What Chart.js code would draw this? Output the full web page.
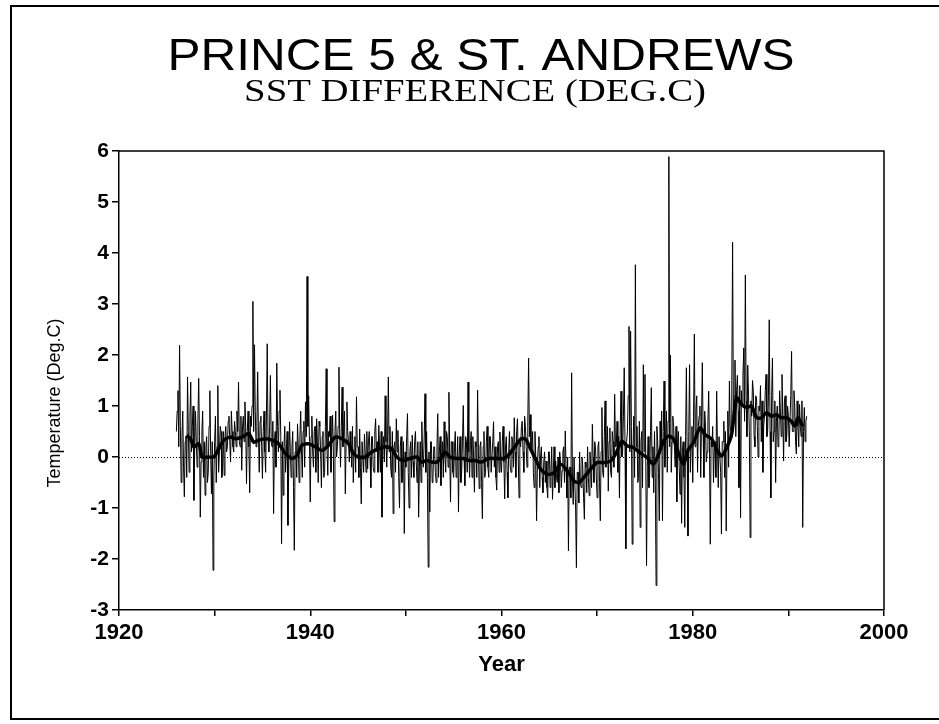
<!DOCTYPE html>
<html>
<head>
<meta charset="utf-8">
<script src="https://cdn.jsdelivr.net/npm/chart.js@4.4.0/dist/chart.umd.min.js"></script>
<style>
html,body{margin:0;padding:0;background:#fff;}
#wrap{width:939px;height:724px;}
</style>
</head>
<body>
<div id="wrap"><canvas id="c" width="939" height="724"></canvas></div>
<script>
// ---- Text ----
const titleText = 'PRINCE 5 & ST. ANDREWS';
const subtitleText = 'SST DIFFERENCE (DEG.C)';
const xAxisTitle = 'Year';
const yAxisTitle = 'Temperature (Deg.C)';

// ---- Tick labels ----
const xTickLabels = ['1920', '1940', '1960', '1980', '2000'];
const yTickLabels = ['-3', '-2', '-1', '0', '1', '2', '3', '4', '5', '6'];

// ---- Monthly series, starting January 1926 ----
const seriesStartYear = 1926;
const samplesPerYear = 12;
const sstDifference = [
  0.5,0.9,1.3,0.2,2.19,0.6,-0.5,0.4,0.9,-0.2,-0.78,0.3,        // 1926
  0.4,-0.4,1.57,0.5,-0.3,0.8,1.47,0.1,0.6,1.0,-0.85,0.2,       // 1927
  0.9,0.3,-0.2,0.7,1.54,0.4,-1.18,-0.1,0.5,0.9,-0.4,0.3,       // 1928
  -0.75,0.2,0.4,-0.5,-0.3,0.6,1.3,0.1,-0.72,0.3,-2.22,-0.4,    // 1929
  0.3,0.8,-0.5,0.2,1.4,-0.3,0.1,0.6,0.5,-0.4,-0.2,0.5,         // 1930
  -0.36,0.4,0.6,0.1,0.2,0.7,0.8,0.3,-0.1,0.9,0.5,0.2,          // 1931
  0.1,0.7,0.5,0.2,0.9,0.5,1.47,0.3,0.2,0.8,-0.26,0.6,          // 1932
  0.8,0.3,1.08,0.6,-0.52,0.5,0.9,0.2,-0.7,0.8,0.6,1.0,         // 1933
  3.05,0.5,2.2,0.9,0.2,0.6,1.67,0.4,-0.3,0.7,0.8,0.2,          // 1934
  -0.42,0.5,0.9,0.1,-0.3,0.8,2.22,0.4,0.1,0.6,1.6,0.3,         // 1935
  0.2,0.7,-1.11,0.3,0.5,-0.2,1.84,0.6,0.1,0.9,1.31,0.4,        // 1936
  -1.7,0.3,-0.75,0.2,0.6,-0.3,0.1,0.5,-1.34,-0.2,0.69,0.1,     // 1937
  -0.4,0.2,0.5,-0.6,-1.83,0.1,0.3,-0.4,0.65,0.2,-0.5,0.4,      // 1938
  0.9,0.1,-0.4,0.5,0.7,-0.2,1.08,0.4,3.54,0.6,1.2,0.3,         // 1939
  -0.88,0.4,0.8,0.1,-0.2,0.5,0.6,-0.3,0.75,0.3,-0.5,0.7,       // 1940
  0.6,0.1,-0.6,0.4,0.5,-0.4,-0.3,0.6,1.73,0.2,-0.36,0.5,       // 1941
  0.4,0.8,-0.3,0.3,0.82,0.1,-1.27,0.5,0.9,0.0,0.2,0.6,         // 1942
  1.76,0.4,-0.2,0.6,1.37,0.2,0.5,0.9,-0.72,0.3,1.08,0.5,       // 1943
  0.3,-0.1,0.5,0.2,-0.2,0.6,-0.5,0.1,0.4,-0.3,1.18,0.2,        // 1944
  0.2,-0.4,0.55,-0.2,-0.92,0.3,0.3,-0.3,0.45,0.1,-0.3,0.5,     // 1945
  -0.23,0.3,0.5,0.0,-0.6,0.4,0.4,-0.2,-0.3,0.5,0.75,0.1,       // 1946
  0.3,-0.3,0.62,0.2,-0.3,0.5,-1.18,0.2,0.4,-0.1,1.2,0.3,       // 1947
  -0.2,0.4,1.57,0.1,0.6,-0.2,-0.4,0.5,-1.11,0.2,0.3,-0.3,      // 1948
  0.75,0.1,0.52,-0.4,-1.0,0.2,0.4,-0.5,-0.3,0.3,-1.5,0.1,      // 1949
  -0.2,0.4,0.85,-0.3,-1.0,0.1,0.3,-0.4,0.43,-0.1,-0.4,0.3,     // 1950
  0.5,-0.1,-0.5,0.3,-1.18,-0.2,0.3,-0.5,0.69,0.0,-0.2,0.4,     // 1951
  1.24,-0.3,0.5,-0.4,-2.16,0.1,-1.08,0.3,0.3,-0.5,-0.4,0.2,    // 1952
  0.2,-0.3,-0.5,0.2,0.85,-0.4,0.1,0.4,-0.56,0.0,0.3,-0.4,      // 1953
  0.69,0.0,-0.3,0.5,0.4,-0.2,1.27,0.1,-0.88,0.3,0.3,-0.3,      // 1954
  -0.4,0.2,0.5,-0.4,-0.2,0.4,-1.08,0.1,0.4,-0.5,-0.3,0.3,      // 1955
  1.01,0.0,-0.56,0.4,0.3,-0.3,1.47,0.1,-0.4,0.3,0.5,-0.4,      // 1956
  0.4,0.0,-0.69,0.3,0.2,-0.4,1.31,0.1,-0.62,0.2,0.3,-0.5,      // 1957
  -1.21,0.2,0.5,-0.4,-0.3,0.3,0.6,-0.2,-0.4,0.4,0.4,-0.3,      // 1958
  -0.3,0.3,0.69,-0.2,0.2,-0.4,-0.65,0.2,0.3,-0.3,0.49,-0.1,    // 1959
  -0.3,0.3,0.6,-0.1,-0.82,0.2,0.4,-0.3,-0.8,0.1,0.5,-0.2,      // 1960
  -0.3,0.4,0.3,-0.2,0.77,0.1,-0.4,0.5,0.75,0.0,-0.8,0.3,       // 1961
  0.2,0.6,0.7,0.1,-0.3,0.8,0.6,0.2,-0.2,0.7,1.94,0.4,          // 1962
  0.83,0.2,0.1,0.5,-0.3,-0.6,0.5,0.0,-1.25,-0.2,0.2,0.4,       // 1963
  -0.6,0.0,0.2,-0.4,-0.7,-0.1,0.1,-0.5,-0.08,-0.6,-0.8,0.1,    // 1964
  0.1,-0.6,-0.3,0.2,-0.83,-0.3,0.2,-0.6,-0.08,-0.4,-0.5,0.0,   // 1965
  -0.7,0.1,-0.1,-0.6,-0.27,0.1,0.2,-0.5,0.51,-0.2,-0.8,0.0,    // 1966
  -1.84,-0.2,-0.2,-0.8,1.65,-0.4,-0.93,0.0,0.0,-1.0,-2.17,-0.3,// 1967
  -0.3,-0.9,0.1,-0.5,-0.6,0.0,-0.2,-0.8,-1.22,-0.1,-0.2,-0.7,  // 1968
  0.2,-0.4,-0.76,0.1,-0.3,-0.6,0.64,0.0,-0.5,0.3,0.18,-0.4,    // 1969
  -0.8,0.2,0.3,-0.5,-1.25,0.1,0.97,-0.3,-0.4,0.4,1.1,-0.2,     // 1970
  0.2,0.6,-0.67,0.3,0.57,-0.3,-0.4,0.5,0.3,-0.2,1.23,0.2,      // 1971
  0.2,0.7,-0.3,0.4,-0.8,0.6,1.29,0.0,0.1,0.8,1.75,0.2,         // 1972
  -1.8,0.3,0.5,1.2,2.56,0.1,2.47,0.6,-1.71,0.2,0.8,-0.4,       // 1973
  3.77,0.2,0.6,-0.5,-0.4,0.7,-1.38,0.3,0.5,-0.6,1.81,0.1,      // 1974
  1.62,0.0,-2.13,-0.2,0.4,-0.6,-0.3,0.5,1.36,-0.4,0.2,-0.7,    // 1975
  0.5,-0.4,-2.52,0.6,0.3,-0.3,-1.25,0.7,0.2,0.9,-1.25,0.5,     // 1976
  1.49,-0.2,0.4,0.9,-0.3,0.7,5.89,0.2,2.0,-0.3,0.3,0.8,        // 1977
  0.6,0.2,-0.2,0.6,-0.88,0.3,0.5,-0.2,-0.73,0.4,-1.3,0.1,      // 1978
  0.3,-0.4,-1.38,0.4,1.75,0.0,-1.55,0.5,1.81,-0.3,0.2,0.6,     // 1979
  -0.5,0.8,2.41,0.2,0.9,1.2,-0.3,0.6,0.8,1.0,-0.4,0.7,         // 1980
  1.85,0.5,-0.4,0.9,0.6,-0.1,0.1,0.7,1.29,0.2,-1.71,0.3,       // 1981
  0.2,0.6,-0.5,0.1,0.3,-0.4,1.29,0.2,-0.6,0.4,0.4,-0.3,        // 1982
  -1.51,0.3,0.3,0.7,-0.4,0.5,-1.45,0.2,0.9,-0.2,1.49,0.6,      // 1983
  0.5,1.5,4.21,0.8,1.2,1.9,0.4,1.3,1.6,0.9,-0.6,1.4,           // 1984
  -1.19,1.3,1.0,1.6,2.14,0.7,3.57,1.1,0.4,1.8,1.2,0.5,         // 1985
  -1.58,1.1,0.8,1.5,1.3,0.4,0.2,1.2,1.16,0.6,0.0,1.0,          // 1986
  0.9,1.4,0.3,1.1,-0.3,0.6,0.8,1.3,1.62,0.4,0.5,1.2,           // 1987
  2.69,0.5,-0.8,1.2,1.94,0.3,0.5,1.1,-0.5,0.7,1.0,0.2,         // 1988
  0.3,1.3,0.9,0.4,1.62,0.8,-0.08,1.1,1.2,0.3,0.4,1.0,          // 1989
  0.8,0.2,0.2,1.2,2.07,0.5,0.5,1.3,1.0,0.3,0.06,1.1,           // 1990
  0.6,0.2,1.03,0.6,0.4,1.1,-1.38,0.5,0.97,0.3,0.7,0.8          // 1991
];

// ---- Smoothed (running mean) series ----
const smoothYears = [1927.03,1927.48,1927.83,1928.35,1928.70,1929.39,1929.91,1930.43,1930.96,1931.65,
  1932.17,1932.87,1933.57,1934.09,1934.61,1935.30,1936.0,1936.70,1937.39,1938.09,
  1938.61,1939.13,1939.83,1940.52,1941.22,1941.91,1942.61,1943.30,1944.0,1944.52,
  1945.04,1945.74,1946.43,1947.13,1947.83,1948.52,1949.04,1949.74,1950.43,1951.13,
  1951.65,1952.17,1952.70,1953.22,1953.74,1954.09,1954.61,1955.30,1956.0,1956.70,
  1957.22,1957.91,1958.61,1959.48,1960.17,1960.63,1961.32,1962.01,1962.53,1963.06,
  1963.58,1964.10,1964.79,1965.49,1966.18,1966.88,1967.57,1968.09,1968.61,1969.31,
  1970.0,1970.69,1971.39,1971.91,1972.60,1973.13,1973.82,1974.51,1975.21,1975.90,
  1976.42,1976.94,1977.47,1977.99,1978.51,1979.03,1979.55,1980.07,1980.76,1981.28,
  1981.98,1982.50,1983.02,1983.54,1984.06,1984.58,1985.10,1985.63,1986.15,1986.67,
  1987.19,1987.71,1988.23,1988.75,1989.27,1989.79,1990.31,1990.66,1991.01,1991.5];
const smoothValues = [0.42,0.36,0.2,0.26,0.0,0.0,0.0,0.16,0.33,0.39,
  0.36,0.39,0.46,0.29,0.33,0.36,0.33,0.26,0.07,-0.03,
  0.03,0.23,0.26,0.2,0.13,0.23,0.39,0.36,0.26,0.07,
  0.0,0.0,0.1,0.16,0.2,0.16,0.0,-0.07,-0.03,0.0,
  -0.1,-0.07,-0.1,-0.1,0.0,0.1,0.0,-0.03,-0.03,-0.07,
  -0.07,-0.1,-0.03,-0.03,-0.03,0.02,0.18,0.35,0.35,0.15,
  -0.05,-0.24,-0.34,-0.31,-0.14,-0.27,-0.47,-0.5,-0.4,-0.24,
  -0.11,-0.11,-0.08,0.05,0.31,0.22,0.18,0.08,-0.01,-0.14,
  0.05,0.31,0.41,0.35,0.08,-0.14,0.15,0.28,0.57,0.44,
  0.35,0.15,0.02,0.18,0.44,1.16,1.03,0.97,1.0,0.77,
  0.77,0.87,0.8,0.83,0.77,0.77,0.7,0.61,0.77,0.6];

// ---- Build library data ----
const rawPoints = sstDifference.map((v, i) => ({ x: seriesStartYear + i / samplesPerYear, y: v }));
const smoothPoints = smoothYears.map((yr, i) => ({ x: yr, y: smoothValues[i] }));

const SANS = "'Liberation Sans', Arial, Helvetica, sans-serif";
const SERIF = "'Liberation Serif', 'Times New Roman', serif";
const NB = '\u00A0';

const framePlugin = {
  id: 'frame',
  beforeDraw(chart) {
    const ctx = chart.ctx;
    ctx.save();
    ctx.fillStyle = '#fff';
    ctx.fillRect(0, 0, chart.width, chart.height);
    ctx.strokeStyle = '#000';
    ctx.lineWidth = 2;
    ctx.beginPath();
    ctx.moveTo(chart.width, 6); ctx.lineTo(11, 6); ctx.lineTo(11, 719); ctx.lineTo(chart.width, 719);
    ctx.stroke();
    ctx.restore();
  }
};

// Headline texts, drawn slightly widened like the original typesetting
const headingPlugin = {
  id: 'heading',
  afterDraw(chart) {
    const ctx = chart.ctx;
    const drawWide = (text, font, cx, baseline, stretch) => {
      ctx.save();
      ctx.font = font;
      ctx.fillStyle = '#000';
      ctx.textAlign = 'center';
      ctx.textBaseline = 'alphabetic';
      ctx.translate(cx, baseline);
      ctx.scale(stretch, 1);
      ctx.fillText(text, 0, 0);
      ctx.restore();
    };
    drawWide(titleText, "45px " + SANS, 481, 70, 1.1);
    drawWide(subtitleText, "31px " + SERIF, 475, 101, 1.25);
  }
};

const zeroLinePlugin = {
  id: 'zeroLine',
  beforeDatasetsDraw(chart) {
    const { ctx, chartArea, scales } = chart;
    const y = Math.round(scales.y.getPixelForValue(0)) + 0.5;
    ctx.save();
    ctx.strokeStyle = '#000';
    ctx.lineWidth = 1;
    ctx.setLineDash([1, 2]);
    ctx.beginPath();
    ctx.moveTo(chartArea.left, y);
    ctx.lineTo(chartArea.right, y);
    ctx.stroke();
    ctx.restore();
  }
};

const boxPlugin = {
  id: 'plotBox',
  afterDatasetsDraw(chart) {
    const { ctx, chartArea } = chart;
    ctx.save();
    ctx.strokeStyle = '#000';
    ctx.lineWidth = 1.5;
    ctx.beginPath();
    ctx.moveTo(chartArea.left, chartArea.top);
    ctx.lineTo(chartArea.right, chartArea.top);
    ctx.lineTo(chartArea.right, chartArea.bottom);
    ctx.stroke();
    ctx.restore();
  }
};

new Chart(document.getElementById('c'), {
  type: 'line',
  data: {
    datasets: [
      {
        label: 'Running mean',
        data: smoothPoints,
        borderColor: '#000',
        borderWidth: 3.5,
        pointRadius: 0,
        tension: 0.25,
        fill: false,
        order: 0
      },
      {
        label: 'SST difference',
        data: rawPoints,
        borderColor: '#000',
        borderWidth: 1,
        pointRadius: 0,
        tension: 0,
        fill: false,
        order: 1
      }
    ]
  },
  options: {
    responsive: false,
    animation: false,
    devicePixelRatio: 1,
    layout: { padding: { left: 0, right: 55, top: 151, bottom: 0 } },
    plugins: {
      legend: { display: false },
      tooltip: { enabled: false },
      title: { display: false },
      subtitle: { display: false }
    },
    scales: {
      x: {
        type: 'linear',
        min: 1920,
        max: 2000,
        afterFit(scale) { scale.height = 114; },
        ticks: {
          stepSize: 10,
          autoSkip: false,
          maxRotation: 0,
          color: '#000',
          padding: 4,
          font: { family: SANS, size: 22, weight: 'bold' },
          callback: (v) => xTickLabels.includes(String(v)) ? String(v) : ''
        },
        grid: { display: true, drawOnChartArea: false, drawTicks: true, tickLength: 6, color: '#000', lineWidth: 1.5 },
        border: { display: true, color: '#000', width: 1.5 },
        title: {
          display: true,
          text: xAxisTitle,
          color: '#000',
          font: { family: SANS, size: 22, weight: 'bold' },
          padding: { top: 0, bottom: 46 }
        }
      },
      y: {
        min: -3,
        max: 6,
        afterFit(scale) { scale.width = 119; },
        ticks: {
          stepSize: 1,
          autoSkip: false,
          color: '#000',
          padding: 3,
          font: { family: SANS, size: 21, weight: 'bold' },
          callback: (v) => yTickLabels.includes(String(v)) ? String(v) : ''
        },
        grid: { display: true, drawOnChartArea: false, drawTicks: true, tickLength: 7, color: '#000', lineWidth: 1.5 },
        border: { display: true, color: '#000', width: 1.5 },
        title: {
          display: true,
          text: yAxisTitle + NB.repeat(9),
          color: '#000',
          font: { family: SANS, size: 18, weight: 'normal' },
          padding: { top: 44, bottom: 0 }
        }
      }
    }
  },
  plugins: [framePlugin, zeroLinePlugin, boxPlugin, headingPlugin]
});
</script>
</body>
</html>
